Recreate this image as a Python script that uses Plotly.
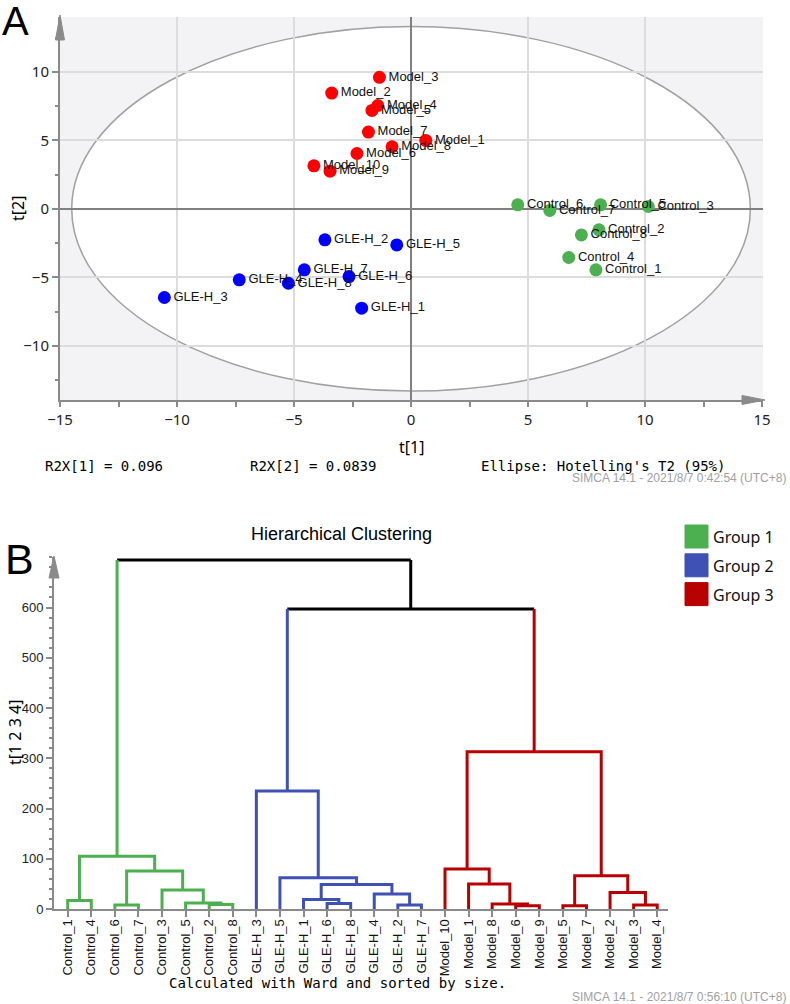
import plotly.graph_objects as go

W, H = 790, 1004

# ---------------- Panel A data (PCA scores) ----------------
model_names = ["Model_1", "Model_2", "Model_3", "Model_4", "Model_5",
               "Model_6", "Model_7", "Model_8", "Model_9", "Model_10"]
model_t1 = [0.63, -3.39, -1.35, -1.42, -1.67, -2.31, -1.82, -0.81, -3.46, -4.15]
model_t2 = [4.99, 8.45, 9.60, 7.54, 7.18, 4.04, 5.60, 4.53, 2.75, 3.14]

gle_names = ["GLE-H_1", "GLE-H_2", "GLE-H_3", "GLE-H_4",
             "GLE-H_5", "GLE-H_6", "GLE-H_7", "GLE-H_8"]
gle_t1 = [-2.11, -3.68, -10.54, -7.34, -0.61, -2.65, -4.56, -5.24]
gle_t2 = [-7.25, -2.26, -6.47, -5.18, -2.63, -4.94, -4.45, -5.43]

ctrl_names = ["Control_1", "Control_2", "Control_3", "Control_4",
              "Control_5", "Control_6", "Control_7", "Control_8"]
ctrl_t1 = [7.90, 8.03, 10.14, 6.74, 8.10, 4.56, 5.93, 7.28]
ctrl_t2 = [-4.45, -1.53, 0.17, -3.55, 0.29, 0.29, -0.12, -1.90]

ellipse_a = 14.5
ellipse_b = 13.3

# ---------------- Panel B data (dendrogram) ----------------
leaf_names = ["Control_1", "Control_4", "Control_6", "Control_7", "Control_3",
              "Control_5", "Control_2", "Control_8",
              "GLE-H_3", "GLE-H_5", "GLE-H_1", "GLE-H_6", "GLE-H_8",
              "GLE-H_4", "GLE-H_2", "GLE-H_7",
              "Model_10", "Model_1", "Model_8", "Model_6", "Model_9",
              "Model_5", "Model_7", "Model_2", "Model_3", "Model_4"]
leaf_group = [0] * 8 + [1] * 8 + [2] * 10
# merges: child a, child b, height (ids >= 26 refer to earlier merges)
merge_a = [0, 2, 6, 5, 4, 27, 26, 11, 10, 14, 13, 34, 9, 8,
           19, 18, 17, 16, 21, 24, 23, 44, 43, 39, 32]
merge_b = [1, 3, 7, 28, 29, 30, 31, 12, 33, 15, 35, 36, 37, 38,
           20, 40, 41, 42, 22, 25, 45, 46, 47, 48, 49]
merge_h = [17, 8, 9, 12, 38, 75.5, 105, 11, 19, 8, 30, 49, 62, 235,
           6.6, 10, 50, 79.5, 6.6, 8, 33, 66, 313, 597, 694.5]

group_names = ["Group 1", "Group 2", "Group 3"]
group_colors = ["#4caf50", "#3f51b5", "#b80000"]
y2_ticks = [0, 100, 200, 300, 400, 500, 600]

# ---------------- figure ----------------
fig = go.Figure()

pt_colors = {"m": "#ff0000", "g": "#0000ff", "c": "#4caf50"}
for names, xs, ys, col in [(model_names, model_t1, model_t2, pt_colors["m"]),
                           (gle_names, gle_t1, gle_t2, pt_colors["g"]),
                           (ctrl_names, ctrl_t1, ctrl_t2, pt_colors["c"])]:
    fig.add_trace(go.Scatter(
        x=xs, y=ys, text=names, mode="markers+text",
        textposition="middle right",
        textfont=dict(family="Liberation Sans, Arial", size=13, color="#111"),
        marker=dict(size=13, color=col, line=dict(width=0)),
        xaxis="x", yaxis="y", hoverinfo="text", cliponaxis=False))

# dendrogram geometry from merges
pos = [float(i) for i in range(len(leaf_names))]
hgt = [0.0] * len(leaf_names)
grp = list(leaf_group)
seg = {0: ([], []), 1: ([], []), 2: ([], []), -1: ([], [])}
for a, b, h in zip(merge_a, merge_b, merge_h):
    g = grp[a] if grp[a] == grp[b] else -1
    if g != -1:
        xs, ys = seg[g]
        xs += [pos[a], pos[a], pos[b], pos[b], None]
        ys += [hgt[a], h, h, hgt[b], None]
    else:
        for c in (a, b):
            xs, ys = seg[grp[c]]
            xs += [pos[c], pos[c], None]
            ys += [hgt[c], h, None]
        xs, ys = seg[-1]
        xs += [pos[a], pos[b], None]
        ys += [h, h, None]
    pos.append((pos[a] + pos[b]) / 2)
    hgt.append(h)
    grp.append(g)

for g in [-1, 0, 1, 2]:
    xs, ys = seg[g]
    col = "#000000" if g == -1 else group_colors[g]
    fig.add_trace(go.Scatter(x=xs, y=ys, mode="lines",
                             line=dict(color=col, width=3),
                             xaxis="x2", yaxis="y2", hoverinfo="skip"))


def px(x):
    return x / W


def py(y):
    return 1 - y / H


axis_gray = "#8a8a8a"
tick_font_a = dict(family="Noto Sans, Open Sans", size=15, color="#222")

fig.update_layout(
    width=W, height=H, margin=dict(l=0, r=0, t=0, b=0),
    paper_bgcolor="white", plot_bgcolor="white",
    template="none", showlegend=False,
    xaxis=dict(domain=[px(60), px(763)], range=[-15, 15.04],
               anchor="y", dtick=5, tick0=0,
               showgrid=True, gridcolor="#dcdcdc", gridwidth=1.5,
               zeroline=True, zerolinecolor="#808080", zerolinewidth=2,
               showline=True, linecolor=axis_gray, linewidth=2,
               ticks="outside", ticklen=5, tickcolor=axis_gray, tickwidth=1.5,
               minor=dict(dtick=2.5, ticks="outside", ticklen=5,
                          tickcolor=axis_gray, showgrid=False),
               tickfont=tick_font_a),
    yaxis=dict(domain=[py(400), py(17)], range=[-13.95, 14.0],
               anchor="x", dtick=5, tick0=0,
               showgrid=True, gridcolor="#dcdcdc", gridwidth=1.5,
               zeroline=True, zerolinecolor="#808080", zerolinewidth=2,
               showline=True, linecolor=axis_gray, linewidth=2,
               ticks="outside", ticklen=6, tickcolor=axis_gray, tickwidth=1.5,
               minor=dict(dtick=2.5, ticks="outside", ticklen=3,
                          tickcolor=axis_gray, showgrid=False),
               tickfont=tick_font_a),
    xaxis2=dict(domain=[px(54), px(668)], range=[-0.581, 25.457],
                anchor="y2", tickmode="array",
                tickvals=list(range(len(leaf_names))), ticktext=leaf_names,
                tickangle=-90, showgrid=False, zeroline=False,
                showline=True, linecolor=axis_gray, linewidth=2,
                ticks="outside", ticklen=6, tickcolor=axis_gray, tickwidth=1.5,
                ticklabelstandoff=-3,
                tickfont=dict(family="Liberation Sans, Arial", size=13, color="#111")),
    yaxis2=dict(domain=[py(909), py(557)], range=[0, 700.5],
                anchor="x2", tickmode="array", tickvals=y2_ticks,
                showgrid=False, zeroline=False,
                showline=True, linecolor=axis_gray, linewidth=2,
                ticks="outside", ticklen=6, tickcolor=axis_gray, tickwidth=1.5,
                minor=dict(tickmode="linear", tick0=0, dtick=20, ticks="outside",
                           ticklen=3, tickcolor=axis_gray, showgrid=False),
                tickfont=dict(family="Liberation Sans, Arial", size=13, color="#222")),
)

shapes = []
# panel A background (gray) and Hotelling ellipse (white inside)
shapes.append(dict(type="rect", xref="x domain", yref="y domain",
                   x0=0, x1=1, y0=0, y1=1, fillcolor="#f3f2f4",
                   line=dict(width=0), layer="below"))
shapes.append(dict(type="circle", xref="x", yref="y",
                   x0=-ellipse_a, x1=ellipse_a, y0=-ellipse_b, y1=ellipse_b,
                   fillcolor="white", line=dict(color="#a0a0a0", width=1.5),
                   layer="below"))


def tri(points, color=axis_gray):
    path = "M " + " L ".join(f"{px(a):.5f},{py(b):.5f}" for a, b in points) + " Z"
    return dict(type="path", xref="paper", yref="paper", path=path,
                fillcolor=color, line=dict(color=color, width=1), layer="above")


# axis arrows
shapes.append(tri([(60, 15), (55.5, 40), (64.5, 40)]))
shapes.append(tri([(765, 400), (742, 395.5), (742, 404.5)]))
shapes.append(tri([(54, 556), (49, 578), (59, 578)]))

# legend boxes
for i, col in enumerate(group_colors):
    top = 525 + i * 28.8
    shapes.append(dict(type="rect", xref="paper", yref="paper",
                       x0=px(685), x1=px(708), y0=py(top + 23), y1=py(top),
                       fillcolor=col, line=dict(color=col, width=1)))

fig.update_layout(shapes=shapes)

anns = []


def ann(text, x, y, size, family, color="#000", xanchor="center", angle=0):
    anns.append(dict(text=text, x=px(x), y=py(y), xref="paper", yref="paper",
                     xanchor=xanchor, yanchor="middle", showarrow=False,
                     textangle=angle, font=dict(size=size, family=family, color=color)))


sans = "Liberation Sans, Arial"
segoe = "Noto Sans, Open Sans"
mono = "DejaVu Sans Mono, Liberation Mono"

ann("A", 0, 21, 40, sans, xanchor="left")
ann("B", 3, 559, 43, sans, xanchor="left")
ann("t[2]", 18, 209, 16, segoe, angle=-90)
ann("t[1]", 411, 447, 16, segoe)
ann("R2X[1] = 0.096", 43, 466, 14, mono, xanchor="left")
ann("R2X[2] = 0.0839", 248, 466, 14, mono, xanchor="left")
ann("Ellipse: Hotelling's T2 (95%)", 479, 466, 14, mono, xanchor="left")
ann("SIMCA 14.1 - 2021/8/7 0:42:54 (UTC+8)", 788, 478, 12, sans, color="#a0a0a0", xanchor="right")
ann("Hierarchical Clustering", 341, 534, 18, sans)
ann("t[1 2 3 4]", 15, 733, 16, segoe, angle=-90)
ann("Calculated with Ward and sorted by size.", 167, 983, 14, mono, xanchor="left")
ann("SIMCA 14.1 - 2021/8/7 0:56:10 (UTC+8)", 788, 997, 12, sans, color="#a0a0a0", xanchor="right")
for i, name in enumerate(group_names):
    ann(name, 711, 537 + i * 28.8, 16, segoe, color="#111", xanchor="left")

fig.update_layout(annotations=anns)

fig.write_html("out.html",
               config={"displayModeBar": False},
               post_script="document.body.style.margin='0';document.body.style.overflow='hidden';")
